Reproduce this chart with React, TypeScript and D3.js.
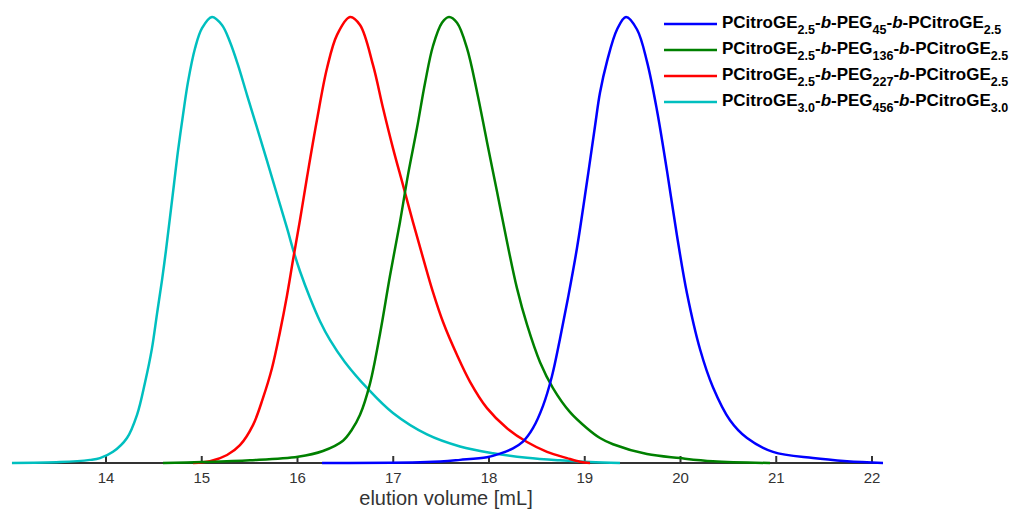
import React from "react";
import * as d3 from "d3";

// elution volume [mL] vs normalized RI signal
const cyanX = [13.018, 13.52, 13.833, 13.937, 14.073, 14.219, 14.324, 14.407, 14.48, 14.533, 14.585, 14.627, 14.668, 14.71, 14.752, 14.804, 14.856, 14.93, 15.003, 15.107, 15.211, 15.295, 15.379, 15.473, 15.577, 15.681, 15.786, 15.89, 15.963, 16.026, 16.131, 16.235, 16.339, 16.496, 16.736, 16.997, 17.352, 17.697, 18.042, 18.397, 18.741, 19.055, 19.368];
const cyanY = [0, 0.002, 0.007, 0.011, 0.025, 0.056, 0.108, 0.18, 0.257, 0.335, 0.41, 0.478, 0.55, 0.625, 0.7, 0.78, 0.854, 0.93, 0.975, 1.0, 0.982, 0.944, 0.892, 0.825, 0.752, 0.678, 0.602, 0.527, 0.472, 0.43, 0.37, 0.318, 0.276, 0.226, 0.166, 0.112, 0.064, 0.037, 0.022, 0.012, 0.006, 0.002, 0];

const redX = [14.909, 15.086, 15.264, 15.399, 15.535, 15.64, 15.734, 15.817, 15.89, 15.953, 16.026, 16.099, 16.204, 16.308, 16.413, 16.548, 16.653, 16.789, 16.893, 16.997, 17.102, 17.206, 17.311, 17.415, 17.52, 17.666, 17.802, 17.979, 18.188, 18.397, 18.606, 18.815, 18.95, 19.055];
const redY = [0, 0.004, 0.018, 0.04, 0.085, 0.146, 0.213, 0.294, 0.375, 0.455, 0.545, 0.64, 0.77, 0.885, 0.96, 1.0, 0.982, 0.892, 0.796, 0.706, 0.623, 0.54, 0.46, 0.383, 0.316, 0.242, 0.182, 0.123, 0.078, 0.047, 0.025, 0.011, 0.003, 0];

const greenX = [14.595, 15.003, 15.504, 16.005, 16.266, 16.475, 16.569, 16.653, 16.757, 16.862, 16.966, 17.07, 17.154, 17.248, 17.332, 17.415, 17.509, 17.582, 17.666, 17.77, 17.875, 17.979, 18.084, 18.188, 18.292, 18.397, 18.533, 18.668, 18.846, 19.023, 19.159, 19.295, 19.65, 19.995, 20.339, 20.935];
const greenY = [0, 0.002, 0.006, 0.014, 0.027, 0.05, 0.075, 0.108, 0.178, 0.29, 0.42, 0.54, 0.646, 0.751, 0.852, 0.935, 0.987, 1.0, 0.987, 0.93, 0.832, 0.72, 0.608, 0.496, 0.392, 0.31, 0.226, 0.168, 0.114, 0.078, 0.056, 0.042, 0.02, 0.011, 0.004, 0];

const blueX = [16.256, 17.352, 17.697, 17.979, 18.115, 18.251, 18.355, 18.459, 18.564, 18.658, 18.741, 18.825, 18.919, 19.023, 19.107, 19.159, 19.232, 19.337, 19.431, 19.546, 19.65, 19.755, 19.859, 19.963, 20.068, 20.204, 20.339, 20.517, 20.695, 20.966, 21.384, 21.739, 22.115];
const blueY = [0, 0.002, 0.007, 0.013, 0.021, 0.033, 0.048, 0.078, 0.128, 0.195, 0.278, 0.37, 0.482, 0.63, 0.755, 0.83, 0.9, 0.972, 1.0, 0.972, 0.9, 0.79, 0.655, 0.51, 0.38, 0.255, 0.17, 0.096, 0.056, 0.025, 0.011, 0.004, 0];

const xTicks = [14, 15, 16, 17, 18, 19, 20, 21, 22];

// legend: [PCitroGE sub, PEG sub, PCitroGE sub]
const legendSubs = [
  ["2.5", "45", "2.5"],
  ["2.5", "136", "2.5"],
  ["2.5", "227", "2.5"],
  ["3.0", "456", "3.0"],
];

const seriesColors = ["#0000FF", "#008000", "#FF0000", "#00BFBF"];

export default function App() {
  const width = 1010;
  const height = 511;
  const x = d3.scaleLinear().domain([14, 22]).range([106, 872]);
  const y = d3.scaleLinear().domain([0, 1]).range([463, 17]);

  const line = d3
    .line<[number, number]>()
    .x((d) => x(d[0]))
    .y((d) => Math.min(y(0), y(d[1])))
    .curve(d3.curveCatmullRom.alpha(0.5));

  const series = [
    { xs: blueX, ys: blueY, color: seriesColors[0] },
    { xs: greenX, ys: greenY, color: seriesColors[1] },
    { xs: redX, ys: redY, color: seriesColors[2] },
    { xs: cyanX, ys: cyanY, color: seriesColors[3] },
  ];
  const drawOrder = [3, 2, 1, 0];

  const font = "'Liberation Sans', Arial, Helvetica, sans-serif";

  return (
    <svg
      width={width}
      height={height}
      style={{ position: "absolute", left: 0, top: 0, background: "#fff" }}
    >
      {/* axis */}
      <line x1={x(13.018)} x2={x(22.115)} y1={y(0)} y2={y(0)} stroke="#333" strokeWidth={2} />
      {xTicks.map((t) => (
        <g key={t}>
          <line x1={x(t)} x2={x(t)} y1={y(0)} y2={y(0) - 7} stroke="#333" strokeWidth={2} />
          <text
            x={x(t)}
            y={483}
            textAnchor="middle"
            fontFamily={font}
            fontSize={15}
            fill="#333"
          >
            {t}
          </text>
        </g>
      ))}
      <text x={446} y={505} textAnchor="middle" fontFamily={font} fontSize={20} fill="#333">
        elution volume [mL]
      </text>

      {/* curves */}
      {drawOrder.map((i) => {
        const s = series[i];
        const pts = s.xs.map((v, k) => [v, s.ys[k]] as [number, number]);
        return (
          <path key={i} d={line(pts) || ""} fill="none" stroke={s.color} strokeWidth={2.5} />
        );
      })}

      {/* legend */}
      {legendSubs.map((subs, i) => {
        const ly = 24 + i * 26;
        return (
          <g key={i}>
            <line x1={664} x2={717} y1={ly} y2={ly} stroke={seriesColors[i]} strokeWidth={2.5} />
            <text x={722} y={ly + 4} fontFamily={font} fontSize={17} fontWeight="bold" fill="#000">
              PCitroGE
              <tspan fontSize={12.5} dy={6}>{subs[0]}</tspan>
              <tspan dy={-6}>-</tspan>
              <tspan fontStyle="italic">b</tspan>
              <tspan>-PEG</tspan>
              <tspan fontSize={12.5} dy={6}>{subs[1]}</tspan>
              <tspan dy={-6}>-</tspan>
              <tspan fontStyle="italic">b</tspan>
              <tspan>-PCitroGE</tspan>
              <tspan fontSize={12.5} dy={6}>{subs[2]}</tspan>
            </text>
          </g>
        );
      })}
    </svg>
  );
}
